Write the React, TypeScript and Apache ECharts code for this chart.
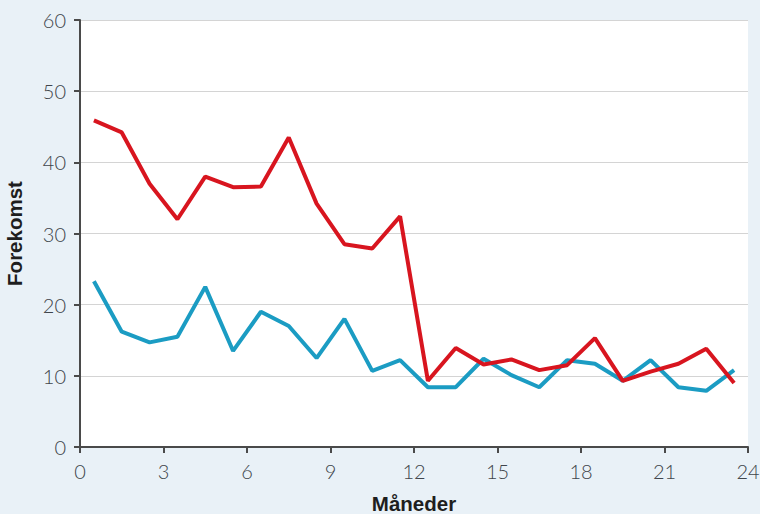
import React, { useEffect, useRef } from "react";
import * as echarts from "echarts";

const months = [0.5, 1.5, 2.5, 3.5, 4.5, 5.5, 6.5, 7.5, 8.5, 9.5, 10.5, 11.5, 12.5, 13.5, 14.5, 15.5, 16.5, 17.5, 18.5, 19.5, 20.5, 21.5, 22.5, 23.5];
const redValues = [45.9, 44.2, 37.0, 32.0, 38.0, 36.5, 36.6, 43.5, 34.2, 28.5, 27.9, 32.4, 9.3, 13.9, 11.6, 12.3, 10.8, 11.5, 15.3, 9.3, 10.6, 11.7, 13.8, 9.0];
const blueValues = [23.3, 16.2, 14.7, 15.5, 22.5, 13.5, 19.0, 17.0, 12.5, 18.0, 10.7, 12.2, 8.4, 8.4, 12.4, 10.1, 8.4, 12.2, 11.7, 9.3, 12.2, 8.4, 7.9, 10.8];

const xTitle = "Måneder";
const yTitle = "Forekomst";

export default function App() {
  const ref = useRef<HTMLDivElement>(null);
  useEffect(() => {
    const chart = echarts.init(ref.current!, null, { renderer: "svg" });
    const labelStyle = { color: "#40454b", fontSize: 20, fontFamily: "Lato", fontWeight: 300 as any };
    const titleStyle = { color: "#1e1e1e", fontSize: 20.5, fontWeight: "bold" as any, fontFamily: "Liberation Sans" };
    chart.setOption({
      animation: false,
      backgroundColor: "#e9f1f7",
      grid: {
        left: 80, right: 12, top: 20, bottom: 67,
        containLabel: false,
        outerBoundsMode: "none",
        show: true, backgroundColor: "#ffffff", borderWidth: 0,
      },
      xAxis: {
        type: "value",
        min: 0,
        max: 24,
        interval: 3,
        name: xTitle,
        nameLocation: "middle",
        nameGap: 46,
        nameTextStyle: titleStyle,
        axisLine: { show: true, lineStyle: { color: "#4a4a4a", width: 2 } },
        axisTick: { show: true, length: 6, lineStyle: { color: "#4a4a4a", width: 2 } },
        axisLabel: { ...labelStyle, margin: 14 },
        splitLine: { show: false },
      },
      yAxis: {
        type: "value",
        min: 0,
        max: 60,
        interval: 10,
        name: yTitle,
        nameLocation: "middle",
        nameGap: 55,
        nameRotate: 90,
        nameTextStyle: titleStyle,
        axisLine: { show: true, lineStyle: { color: "#4a4a4a", width: 2 } },
        axisTick: { show: true, length: 6, lineStyle: { color: "#4a4a4a", width: 2 } },
        axisLabel: { ...labelStyle, margin: 14 },
        splitLine: { show: true, lineStyle: { color: "#d4d4d4", width: 1 } },
      },
      series: [
        {
          type: "line",
          data: months.map((m, i) => [m, blueValues[i]]),
          symbol: "none",
          lineStyle: { color: "#1b9cc3", width: 4 },
          z: 2,
        },
        {
          type: "line",
          data: months.map((m, i) => [m, redValues[i]]),
          symbol: "none",
          lineStyle: { color: "#d8151f", width: 4 },
          z: 3,
        },
      ],
    });
    return () => chart.dispose();
  }, []);
  return <div ref={ref} style={{ position: "fixed", left: 0, top: 0, width: 760, height: 514 }} />;
}
